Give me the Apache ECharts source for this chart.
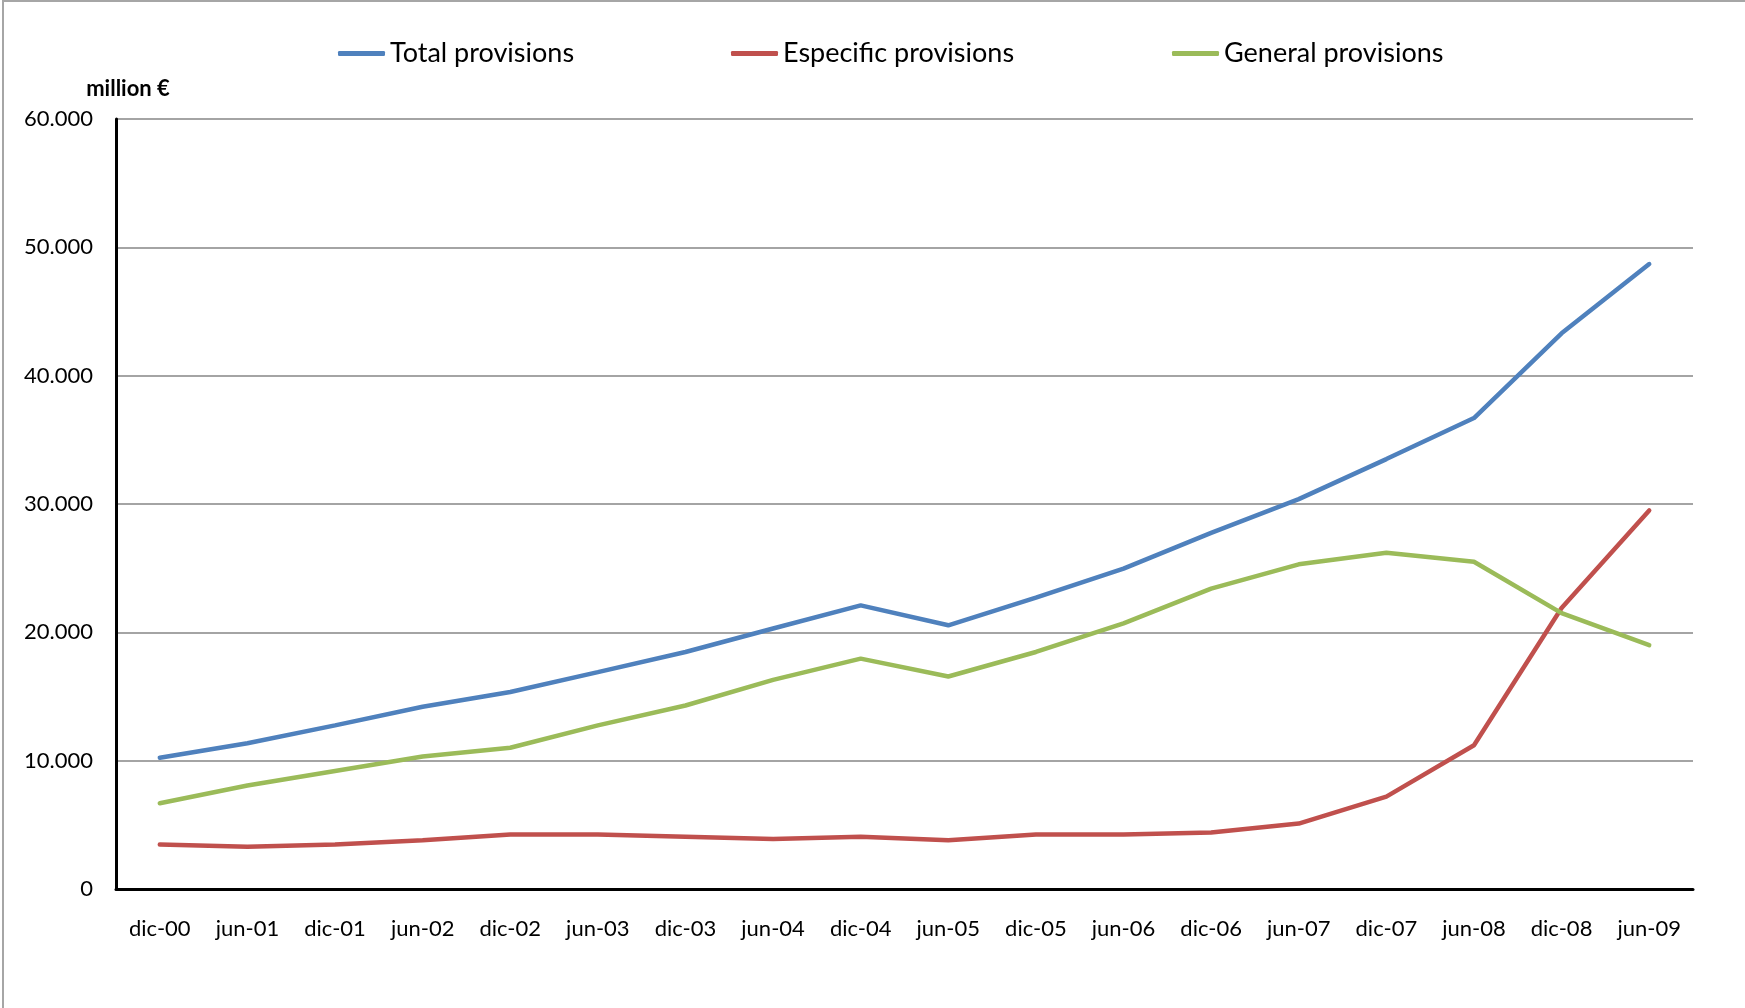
<!DOCTYPE html>
<html>
<head>
<meta charset="utf-8">
<script src="https://cdn.jsdelivr.net/npm/echarts@6/dist/echarts.min.js"></script>
<style>
html,body{margin:0;padding:0;background:#fff;}
#chart{width:1745px;height:1008px;}
</style>
</head>
<body>
<div id="chart"></div>
<script>
const categories = ['dic-00','jun-01','dic-01','jun-02','dic-02','jun-03','dic-03','jun-04','dic-04','jun-05','dic-05','jun-06','dic-06','jun-07','dic-07','jun-08','dic-08','jun-09'];
const totalProvisions = [10230,11360,12750,14200,15350,16900,18470,20300,22100,20550,22700,24970,27750,30380,33500,36700,43300,48700];
const especificProvisions = [3470,3300,3470,3800,4250,4250,4080,3900,4080,3800,4250,4250,4400,5100,7200,11200,21900,29500];
const generalProvisions = [6680,8060,9190,10320,11010,12750,14300,16300,17950,16560,18470,20700,23400,25300,26200,25500,21500,19000];
const yTicks = { min: 0, max: 60000, interval: 10000 };
const yUnit = 'million €';

const FONT = 'Lato, "Open Sans", sans-serif';
const chart = echarts.init(document.getElementById('chart'));
function legendItem(name, left){
  return {
    data:[name], left:left, top:35, orient:'horizontal',
    icon:'roundRect', itemWidth:47, itemHeight:5,
    textStyle:{fontFamily:FONT, fontSize:27, color:'#000'}
  };
}
chart.setOption({
  animation:false,
  backgroundColor:'#fff',
  graphic:[{type:'rect', shape:{x:3,y:1,width:1800,height:1200}, style:{fill:'none', stroke:'#a6a6a6', lineWidth:2}, silent:true}],
  legend:[legendItem('Total provisions',333), legendItem('Especific provisions',726), legendItem('General provisions',1167)],
  grid:{left:116, right:52, top:119, bottom:119, containLabel:false},
  xAxis:{
    type:'category', data:categories, boundaryGap:true,
    axisLine:{lineStyle:{color:'#000', width:3}},
    axisTick:{alignWithLabel:true, length:5, lineStyle:{color:'#000', width:3}},
    axisLabel:{fontFamily:FONT, fontSize:22, color:'#000', margin:29}
  },
  yAxis:{
    type:'value', min:yTicks.min, max:yTicks.max, interval:yTicks.interval,
    name:yUnit, nameLocation:'end', nameGap:19,
    nameTextStyle:{fontFamily:FONT, fontSize:22, fontWeight:'bold', color:'#000', align:'center', padding:[0,0,0,24]},
    axisLine:{show:true, lineStyle:{color:'#000', width:3}},
    axisTick:{show:false},
    splitLine:{lineStyle:{color:'#868686', width:1.5}},
    axisLabel:{fontFamily:FONT, fontSize:22, color:'#000', margin:23,
      formatter:function(v){ return v===0 ? '0' : (v/1000).toFixed(0)+'.000'; }}
  },
  series:[
    {name:'Total provisions', type:'line', data:totalProvisions, symbol:'none', lineStyle:{width:4.5, color:'#4F81BD', cap:'round'}, itemStyle:{color:'#4F81BD'}},
    {name:'Especific provisions', type:'line', data:especificProvisions, symbol:'none', lineStyle:{width:4.5, color:'#C0504D', cap:'round'}, itemStyle:{color:'#C0504D'}},
    {name:'General provisions', type:'line', data:generalProvisions, symbol:'none', lineStyle:{width:4.5, color:'#9BBB59', cap:'round'}, itemStyle:{color:'#9BBB59'}}
  ]
});
</script>
</body>
</html>
